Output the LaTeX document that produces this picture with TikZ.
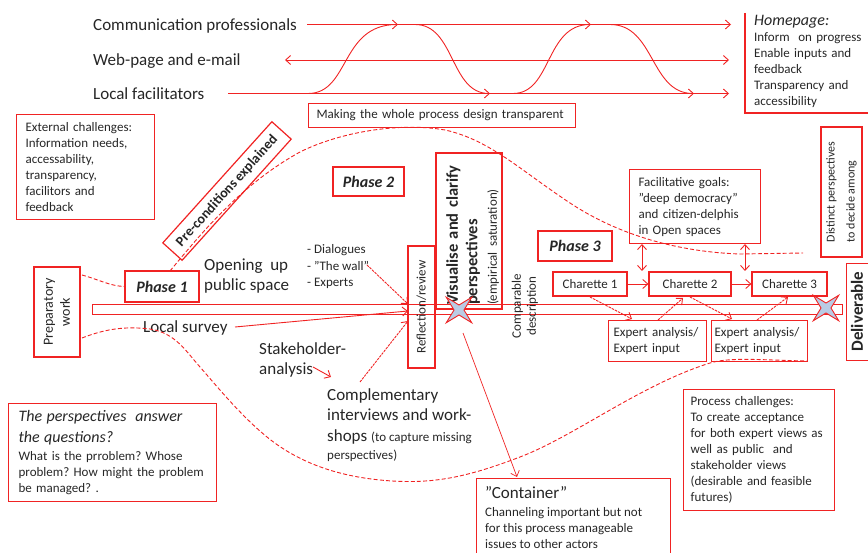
\documentclass[tikz,border=0pt]{standalone}
\usepackage{fontspec}
\setmainfont{Carlito}
\frenchspacing
\usetikzlibrary{arrows.meta,shapes.geometric}
\definecolor{lred}{RGB}{240,35,35}
\definecolor{txt}{RGB}{38,38,38}
\definecolor{starfill}{RGB}{185,203,228}
\begin{document}
\begin{tikzpicture}[x=1pt,y=-1pt,
  every node/.style={text=txt, inner sep=0pt},
  box/.style={draw=lred, line width=1.2pt},
  ln/.style={draw=lred, line width=0.9pt},
  arr/.style={ln, -{Straight Barb[length=5pt,width=9pt]}},
  darr/.style={ln, {Straight Barb[length=5pt,width=9pt]}-{Straight Barb[length=5pt,width=9pt]}},
  dsh/.style={ln, dash pattern=on 4pt off 2.2pt},
  ddsh/.style={dash pattern=on 2.5pt off 1pt},
  fs/.style={font=\fontsize{13}{16}\selectfont},
  fl/.style={font=\fontsize{17}{20}\selectfont},
  ph/.style={box, font=\fontsize{16}{16}\selectfont\bfseries\itshape},
  starbox/.style={star, star points=4, star point ratio=3.6, minimum size=36, rotate=45, draw=lred, fill=starfill, line width=0.9pt},
]
\useasboundingbox (0,0) rectangle (868,553);
\clip (0,0) rectangle (868,553);

% ---- top channels ----
\node[fl, anchor=west] (comm) at (93,25.5) {Communication professionals};
\node[fl, anchor=west] (web) at (93,61) {Web-page and e-mail};
\node[fl, anchor=west] (loc) at (93,94) {Local facilitators};
\coordinate (commL) at (307,24.5); \coordinate (commR) at (731,24.5);
\coordinate (webL) at (285,60); \coordinate (webR) at (729,60);
\coordinate (locL) at (228,93.5); \coordinate (locR) at (729,93.5);
\draw[arr] (commL) -- (commR);
\draw[darr] (webL) -- (webR);
\draw[arr] (locL) -- (locR);
\coordinate (sA1) at (308,93.5); \coordinate (sA2) at (398,24.5);
\coordinate (sB1) at (415,24.5); \coordinate (sB2) at (490,93.5);
\coordinate (sC1) at (513,93.5); \coordinate (sC2) at (591,24.5);
\coordinate (sD1) at (610,24.5); \coordinate (sD2) at (694,93.5);
\draw[arr] (sA1) .. controls (350,93.5) and (340,24.5) .. (sA2);
\draw[arr] (sB1) .. controls (455,24.5) and (450,93.5) .. (sB2);
\draw[arr] (sC1) .. controls (552,93.5) and (545,24.5) .. (sC2);
\draw[arr] (sD1) .. controls (655,24.5) and (650,93.5) .. (sD2);

\node[box, fs, anchor=north west, minimum width=267, minimum height=24, text width=251, inner xsep=8, align=left] (making) at (308,103) {Making the whole process design transparent};

\node[anchor=north west, align=left, text width=112, fs] (home) at (754,15) {{\fontsize{16}{16}\selectfont\itshape Homepage:}\\Inform\ \ on progress\\Enable inputs and\\feedback\\Transparency and\\accessibility};
\coordinate (hpA) at (745,13); \coordinate (hpB) at (745,113); \coordinate (hpC) at (872,113);
\draw[box] (hpA) -- (hpB) -- (hpC);

% ---- left ----
\node[box, fs, anchor=north west, minimum height=105, text width=120, inner xsep=9, align=left] (ext) at (16,114) {External challenges:\\Information needs,\\accessability,\\transparency,\\facilitors and\\feedback};

\node[box, rotate=48, minimum width=163, minimum height=26, font=\fontsize{14}{14}\selectfont\bfseries] (pre) at (227,191) {Pre-conditions explained};

\node[ph, minimum width=71, minimum height=29] (ph2) at (368.5,181.5) {Phase 2};
\node[ph, minimum width=74, minimum height=31] (ph1) at (162,286.5) {Phase 1};
\node[ph, minimum width=74, minimum height=30] (ph3) at (575,246) {Phase 3};

\node[box, rotate=90, minimum width=90, minimum height=46, align=center, font=\fontsize{14}{17}\selectfont] (prep) at (57,312) {Preparatory\\work};

\node[fl, anchor=west, align=left] (open) at (204,276) {Opening\ \ up\\public space};
\node[anchor=west, align=left, font=\fontsize{13}{16.5}\selectfont] (dial) at (307,267) {- Dialogues\\- ”The wall”\\- Experts};
\node[fl, anchor=west] (survey) at (143,328) {Local survey};
\node[fl, anchor=west, align=left] (stake) at (259,360) {Stakeholder-\\analysis};
\node[anchor=north west, align=left, font=\fontsize{17}{20.5}\selectfont] (compl) at (327,388) {Complementary\\interviews and work-\\shops {\fontsize{13}{16}\selectfont(to capture missing}\\[-2.5pt]{\fontsize{13}{16}\selectfont perspectives)}};

% ---- main bar ----
\node[draw=lred, line width=0.9pt, minimum width=750, minimum height=10.5, anchor=west] (bar) at (92,309.5) {};

\node[box, rotate=90, minimum width=122, minimum height=27, fs] (refl) at (421.5,307) {Reflection/review};
\node[box, rotate=90, minimum width=156, minimum height=66, text width=148, inner xsep=4, align=left, font=\fontsize{16.5}{19.5}\selectfont] (vis) at (469,231) {\rule{0pt}{19pt}{\bfseries Visualise and clarify}\\{\bfseries perspectives}\\{\fontsize{13}{16}\selectfont (empirical saturation)}};
\node[rotate=90, align=center, font=\fontsize{13}{15}\selectfont] (comp) at (525,306) {Comparable\\description};

\node[starbox] (star1) at (459,310) {};
\node[starbox] (star2) at (826,308) {};

% ---- phase 3 ----
\node[box, fs, anchor=north west, minimum height=74, text width=113, inner xsep=9, align=left] (fac) at (629,169) {Facilitative goals:\\”deep democracy”\\and citizen-delphis\\in Open spaces};
\node[box, fs, minimum width=74, minimum height=24] (c1) at (590,284) {Charette 1};
\node[box, fs, minimum width=82, minimum height=24] (c2) at (690,284) {Charette 2};
\node[box, fs, minimum width=75, minimum height=24] (c3) at (789.5,284) {Charette 3};
\node[box, fs, anchor=north west, minimum height=41, text width=88, inner xsep=5, align=left] (e1) at (608,320) {Expert analysis/\\Expert input};
\node[box, fs, anchor=north west, minimum height=41, text width=90, inner xsep=3, align=left] (e2) at (711,320) {Expert analysis/\\Expert input};

\node[box, minimum width=34, minimum height=97, anchor=north west] (deliv) at (846,263) {};
\node[rotate=90, font=\fontsize{17}{17}\selectfont\bfseries] (delivt) at (857,311.5) {Deliverable};
\node[box, rotate=90, minimum width=130, minimum height=41, align=left, font=\fontsize{12}{20}\selectfont] (dist) at (841.5,192) {Distinct perspectives\\to decide among};

\node[box, fs, anchor=north west, minimum height=121, text width=137, inner xsep=7, align=left] (proc) at (683,389) {Process challenges:\\To create acceptance\\for both expert views as\\well as public\ \ and\\stakeholder views\\(desirable and feasible\\futures)};

\node[box, anchor=north west, minimum width=194, minimum height=90] (cont) at (476,478) {};
\node[anchor=north west, align=left, font=\fontsize{13}{16}\selectfont] (contt) at (485,486) {{\fontsize{17}{17}\selectfont ”Container”}\\[2pt]Channeling important but not\\for this process manageable\\issues to other actors};

\node[box, anchor=north west, minimum height=98, text width=188, inner xsep=10, align=left, font=\fontsize{13}{16}\selectfont] (persp) at (8,403) {{\fontsize{16}{16}\selectfont\itshape The perspectives\ \ answer}\\[5pt]{\fontsize{16}{16}\selectfont\itshape the questions?}\\[2pt]What is the prroblem? Whose\\problem? How might the problem\\be managed? .};

% ---- connectors ----
\coordinate (prepA) at (82,275);
\coordinate (prepB) at (82,338);
\draw[dsh] (prepA) .. controls (100,280) and (110,286) .. (ph1.west);
\coordinate (upS) at (170,271);
\coordinate (upE) at (803,253);
\draw[dsh] (upS) .. controls (200,235) and (240,185) .. (300,152)
  .. controls (340,132) and (400,122) .. (445,130)
  .. controls (490,140) and (520,170) .. (570,203)
  .. controls (620,236) and (680,252) .. (740,254) -- (upE);
\coordinate (loE) at (807,361);
\draw[dsh] (prepB) .. controls (105,329) and (125,326) .. (150,329)
  .. controls (175,333) and (185,350) .. (200,367)
  .. controls (215,384) and (240,415) .. (267,437)
  .. controls (294,459) and (330,475) .. (380,480)
  .. controls (430,485) and (465,478) .. (520,457)
  .. controls (575,436) and (640,385) .. (710,363)
  .. controls (730,357) and (760,360) .. (loE);

\coordinate (wallS) at (367,265); \coordinate (reflA) at (408,304);
\coordinate (survS) at (235,327); \coordinate (reflB) at (408,311);
\coordinate (complS) at (360,382); \coordinate (reflC) at (408,321);
\coordinate (stakeS) at (313,367); \coordinate (stakeE) at (331,377);
\draw[arr, ddsh] (wallS) -- (reflA);
\draw[arr] (survS) -- (reflB);
\draw[arr, ddsh] (complS) -- (reflC);
\draw[arr] (stakeS) -- (stakeE);

\coordinate (stA) at (463,333); \coordinate (contA) at (517,477);
\draw[arr, line width=0.7pt] (stA) -- (contA);

\draw[arr] (c1.east) -- (c2.west);
\draw[arr] (c2.east) -- (c3.west);
\coordinate (fa1) at (642,244); \coordinate (fa2) at (642,271);
\coordinate (fb1) at (745,244); \coordinate (fb2) at (745,271);
\draw[darr] (fa1) -- (fa2);
\draw[darr] (fb1) -- (fb2);

\coordinate (x1a) at (590,297); \coordinate (x1b) at (632,319);
\coordinate (x2a) at (658,320); \coordinate (x2b) at (683,298);
\coordinate (x3a) at (690,297); \coordinate (x3b) at (732,319);
\coordinate (x4a) at (757,320); \coordinate (x4b) at (788,297);
\draw[arr, ddsh] (x1a) -- (x1b);
\draw[arr, ddsh] (x2a) -- (x2b);
\draw[arr, ddsh] (x3a) -- (x3b);
\draw[arr, ddsh] (x4a) -- (x4b);
\end{tikzpicture}
\end{document}
